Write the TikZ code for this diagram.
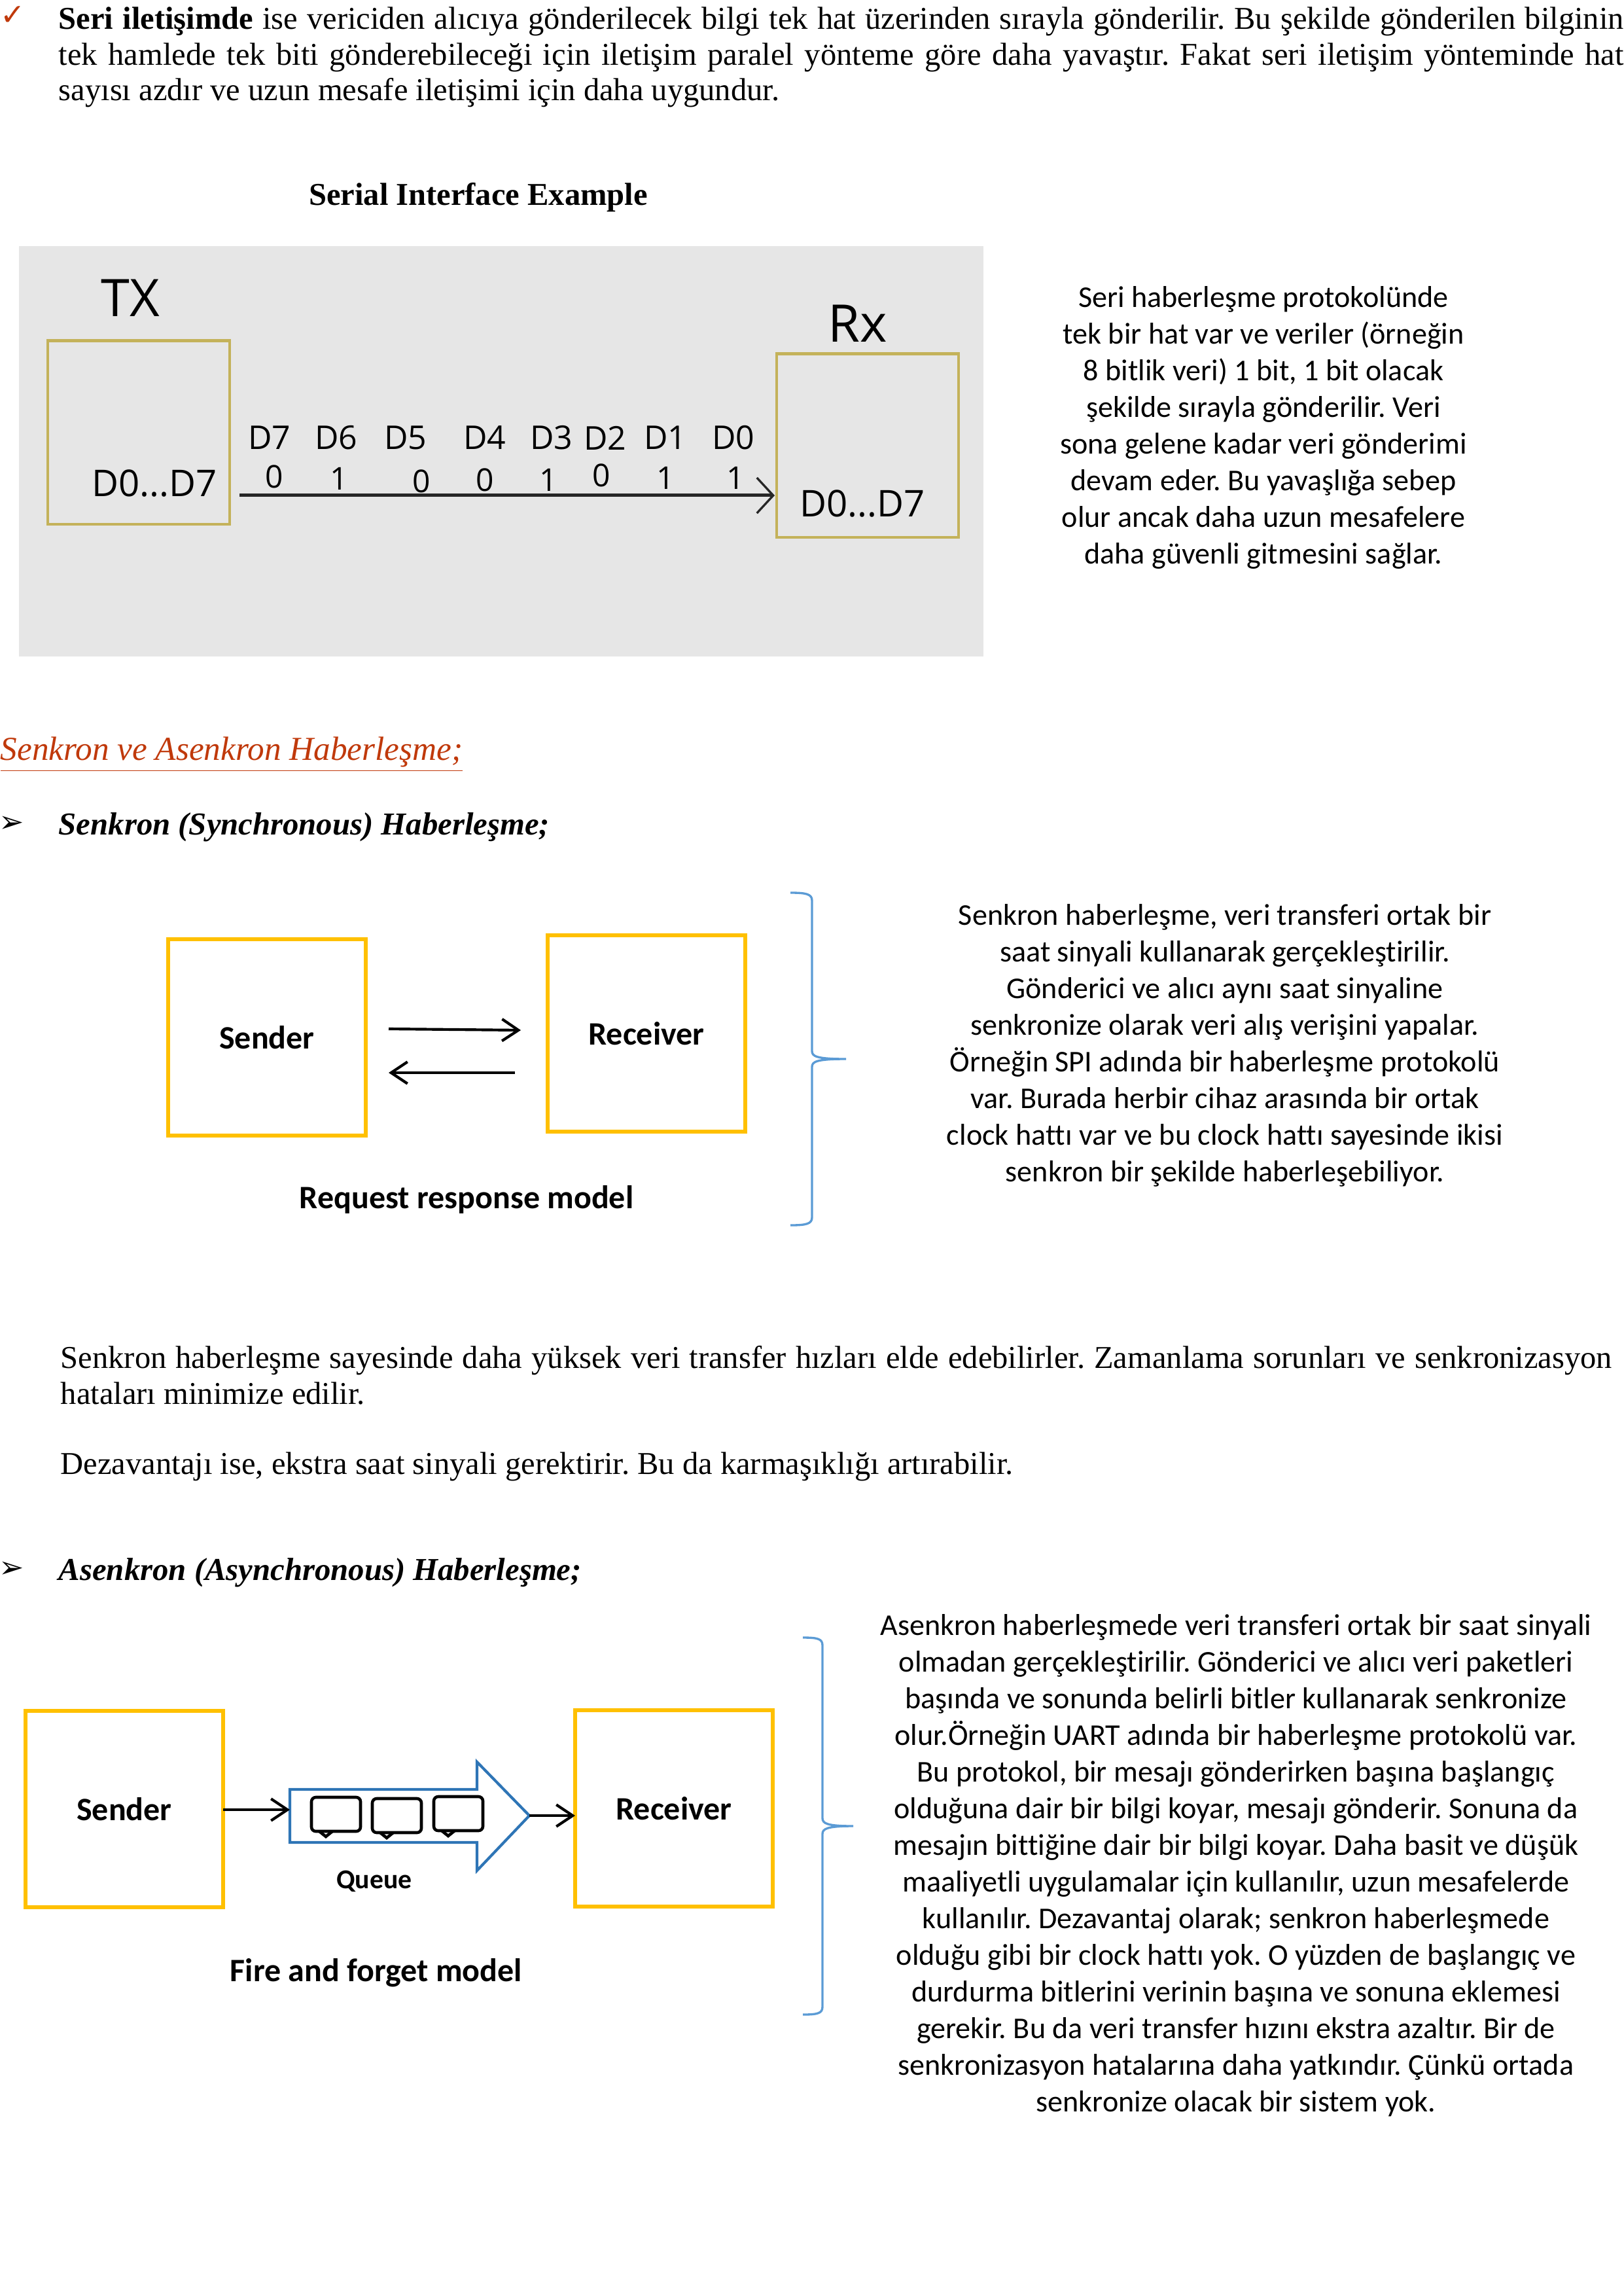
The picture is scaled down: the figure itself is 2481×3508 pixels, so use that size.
\documentclass[tikz,border=0pt]{standalone}
\usepackage{fontspec}
\setmainfont{Liberation Serif}
\newfontfamily\calfont[Ligatures=NoCommon]{Carlito}
\newfontfamily\dvfont{DejaVu Sans}
\newfontfamily\handfont{Open Sans}
\usetikzlibrary{arrows.meta}
\frenchspacing
\definecolor{boxy}{HTML}{FFC000}
\definecolor{oldy}{HTML}{C4B25A}
\definecolor{bracec}{HTML}{5B9BD5}
\definecolor{blockc}{HTML}{2E75B6}
\definecolor{redh}{HTML}{C0390B}
\definecolor{grayp}{HTML}{E6E6E6}
\newcommand{\jline}[1]{\hbox to 574pt{#1}}
\tikzset{
 x=0.24pt,y=-0.24pt,
 serif/.style={anchor=base west,inner sep=0pt,font=\fontsize{11.65}{12}\selectfont},
 calp/.style={inner sep=0pt,align=center,anchor=north,font=\calfont\fontsize{11.07}{13.44}\selectfont},
 flow/.style={draw=boxy,line width=1.4pt,fill=white,minimum width=72.5pt,minimum height=72pt,inner sep=0pt,outer sep=0pt,font=\calfont\bfseries\fontsize{12}{12}\selectfont},
 oldbox/.style={draw=oldy,line width=1pt,minimum width=66.7pt,minimum height=67.4pt,inner sep=0pt,outer sep=0pt},
 arr/.style={line width=1pt,-{Straight Barb[length=6pt,width=8pt,line width=1pt]}},
 brace/.style={draw=bracec,line width=.8pt},
 hdr/.style={inner sep=0pt,font=\handfont\fontsize{12}{12}\selectfont},
 bitv/.style={inner sep=0pt,font=\handfont\fontsize{11.5}{12}\selectfont},
 bub/.style={draw=black,line width=1.1pt,rounded corners=1.6pt},
 tail/.style={line width=1.1pt},
 lbl/.style={inner sep=0pt,font=\calfont\bfseries\fontsize{12}{12}\selectfont},
 bold head/.style={anchor=base west,inner sep=0pt,font=\bfseries\itshape\fontsize{11.7}{12}\selectfont},
 bulletmark/.style={inner sep=0pt,font=\dvfont\bfseries\fontsize{11}{12}\selectfont},
}
\begin{document}
\begin{tikzpicture}
\useasboundingbox (0,0) rectangle (2481,3508);
% intro
\node[anchor=center,inner sep=0pt,text=redh,font=\dvfont\fontsize{11}{12}\selectfont] (check) at (20,24) {✓};
\node[serif] (l1) at (89,45) {\jline{\textbf{Seri iletişimde} ise vericiden alıcıya gönderilecek bilgi tek hat üzerinden sırayla gönderilir. Bu şekilde gönderilen bilginin}};
\node[serif] (l2) at (89,100) {\jline{tek hamlede tek biti gönderebileceği için iletişim paralel yönteme göre daha yavaştır. Fakat seri iletişim yönteminde hat}};
\node[serif] (l3) at (89,154) {sayısı azdır ve uzun mesafe iletişimi için daha uygundur.};
\node[serif,anchor=base] (t1) at (731,314) {\textbf{Serial Interface Example}};
% serial image
\fill[grayp] (29,376) rectangle (1503,1003);
\node[oldbox] (tx) at (212,661) {};
\node[oldbox] (rx) at (1326,681) {};
\node[inner sep=0pt,font=\handfont\fontsize{19}{19}\selectfont] (txl) at (199,455) {TX};
\node[inner sep=0pt,font=\handfont\fontsize{19}{19}\selectfont] (rxl) at (1311,494) {Rx};
\node[inner sep=0pt,font=\handfont\fontsize{13.5}{13}\selectfont] (d1) at (236,739) {D0...D7};
\node[inner sep=0pt,font=\handfont\fontsize{13.5}{13}\selectfont] (d2) at (1318,770) {D0...D7};
\coordinate (ls) at (366,757);
\coordinate (le) at (1184,757);
\draw[line width=1.2pt,draw=black!85,-{Straight Barb[length=6pt,width=13pt,line width=.8pt]}] (ls) -- (le);
\node[hdr] (h7) at (412,669) {D7};
\node[hdr] (h6) at (514,669) {D6};
\node[hdr] (h5) at (620,669) {D5};
\node[hdr] (h4) at (741,669) {D4};
\node[hdr] (h3) at (843,669) {D3};
\node[hdr] (h2) at (925,669) {D2};
\node[hdr] (h1) at (1017,669) {D1};
\node[hdr] (h0) at (1121,669) {D0};
\node[bitv] (b7) at (419,728) {0};
\node[bitv] (b6) at (518,731) {1};
\node[bitv] (b5) at (644,735) {0};
\node[bitv] (b4) at (741,733) {0};
\node[bitv] (b3) at (838,733) {1};
\node[bitv] (b2) at (919,726) {0};
\node[bitv] (b1) at (1017,730) {1};
\node[bitv] (b0) at (1124,730) {1};
\node[calp] (p1) at (1931,437) {Seri haberleşme protokolünde\\tek bir hat var ve veriler (örneğin\\8 bitlik veri) 1 bit, 1 bit olacak\\şekilde sırayla gönderilir. Veri\\sona gelene kadar veri gönderimi\\devam eder. Bu yavaşlığa sebep\\olur ancak daha uzun mesafelere\\daha güvenli gitmesini sağlar.};
% heading
\node[serif,text=redh,font=\itshape\fontsize{12.3}{13}\selectfont] (hd) at (0,1161) {\underline{Senkron ve Asenkron Haberleşme;}};
\node[bulletmark] (b1s) at (18,1259) {➢};
\node[bold head] (s1) at (89,1275) {Senkron (Synchronous) Haberleşme;};
% sync diagram
\node[flow] (snd) at (408,1585) {Sender};
\node[flow] (rcv) at (988,1579) {Receiver};
\coordinate (a1s) at (594,1572);
\coordinate (a1e) at (796,1574);
\coordinate (a2s) at (787,1639);
\coordinate (a2e) at (594,1639);
\draw[arr] (a1s) -- (a1e);
\draw[arr] (a2s) -- (a2e);
\node[lbl] (m1) at (713,1833) {Request response model};
\draw[brace] (1208,1364) .. controls (1232,1364) and (1241,1366) .. (1241,1376) -- (1241,1606) .. controls (1241,1614) and (1248,1618) .. (1293,1618) .. controls (1248,1618) and (1241,1622) .. (1241,1630) -- (1241,1860) .. controls (1241,1870) and (1232,1872) .. (1208,1872);
\node[calp] (p2) at (1872,1381) {Senkron haberleşme, veri transferi ortak bir\\saat sinyali kullanarak gerçekleştirilir.\\Gönderici ve alıcı aynı saat sinyaline\\senkronize olarak veri alış verişini yapalar.\\Örneğin SPI adında bir haberleşme protokolü\\var. Burada herbir cihaz arasında bir ortak\\clock hattı var ve bu clock hattı sayesinde ikisi\\senkron bir şekilde haberleşebiliyor.};
% middle text
\node[serif] (m2) at (92,2090) {\hbox to 2371\dimexpr 0.24pt\relax{Senkron haberleşme sayesinde daha yüksek veri transfer hızları elde edebilirler. Zamanlama sorunları ve senkronizasyon}};
\node[serif] (m3) at (92,2145) {hataları minimize edilir.};
\node[serif] (m4) at (92,2252) {Dezavantajı ise, ekstra saat sinyali gerektirir. Bu da karmaşıklığı artırabilir.};
\node[bulletmark] (b2s) at (18,2398) {➢};
\node[bold head] (s2) at (89,2414) {Asenkron (Asynchronous) Haberleşme;};
% async diagram
\node[flow] (snd2) at (190,2764) {Sender};
\node[flow] (rcv2) at (1030,2763) {Receiver};
\coordinate (qW) at (443,2765);
\coordinate (qE) at (809,2774);
\draw[draw=blockc,line width=1pt,line join=miter] (443,2734) -- (729,2734) -- (729,2692) -- (809,2774) -- (729,2858) -- (729,2815) -- (443,2815) -- cycle;
\draw[bub] (476,2746) rectangle (551,2798);
\draw[bub] (569,2748) rectangle (644,2800);
\draw[bub] (663,2745) rectangle (738,2797);
\draw[tail] (488,2798) -- (498,2806) -- (508,2798);
\draw[tail] (581,2800) -- (591,2808) -- (601,2800);
\draw[tail] (675,2797) -- (685,2805) -- (695,2797);
\draw[arr] (snd2.east |- qW) -- (qW);
\draw[arr] (qE) -- (qE -| rcv2.west);
\node[inner sep=0pt,font=\calfont\bfseries\fontsize{10}{10}\selectfont] (qq) at (572,2874) {Queue};
\node[lbl] (m5) at (575,3014) {Fire and forget model};
\draw[brace] (1227,2502) .. controls (1250,2502) and (1257,2504) .. (1257,2514) -- (1257,2778) .. controls (1257,2786) and (1264,2790) .. (1304,2790) .. controls (1264,2790) and (1257,2794) .. (1257,2802) -- (1257,3066) .. controls (1257,3076) and (1250,3078) .. (1227,3078);
\node[calp] (p3) at (1889,2466) {Asenkron haberleşmede veri transferi ortak bir saat sinyali\\olmadan gerçekleştirilir. Gönderici ve alıcı veri paketleri\\başında ve sonunda belirli bitler kullanarak senkronize\\olur.Örneğin UART adında bir haberleşme protokolü var.\\Bu protokol, bir mesajı gönderirken başına başlangıç\\olduğuna dair bir bilgi koyar, mesajı gönderir. Sonuna da\\mesajın bittiğine dair bir bilgi koyar. Daha basit ve düşük\\maaliyetli uygulamalar için kullanılır, uzun mesafelerde\\kullanılır. Dezavantaj olarak; senkron haberleşmede\\olduğu gibi bir clock hattı yok. O yüzden de başlangıç ve\\durdurma bitlerini verinin başına ve sonuna eklemesi\\gerekir. Bu da veri transfer hızını ekstra azaltır. Bir de\\senkronizasyon hatalarına daha yatkındır. Çünkü ortada\\senkronize olacak bir sistem yok.};
\end{tikzpicture}
\end{document}
